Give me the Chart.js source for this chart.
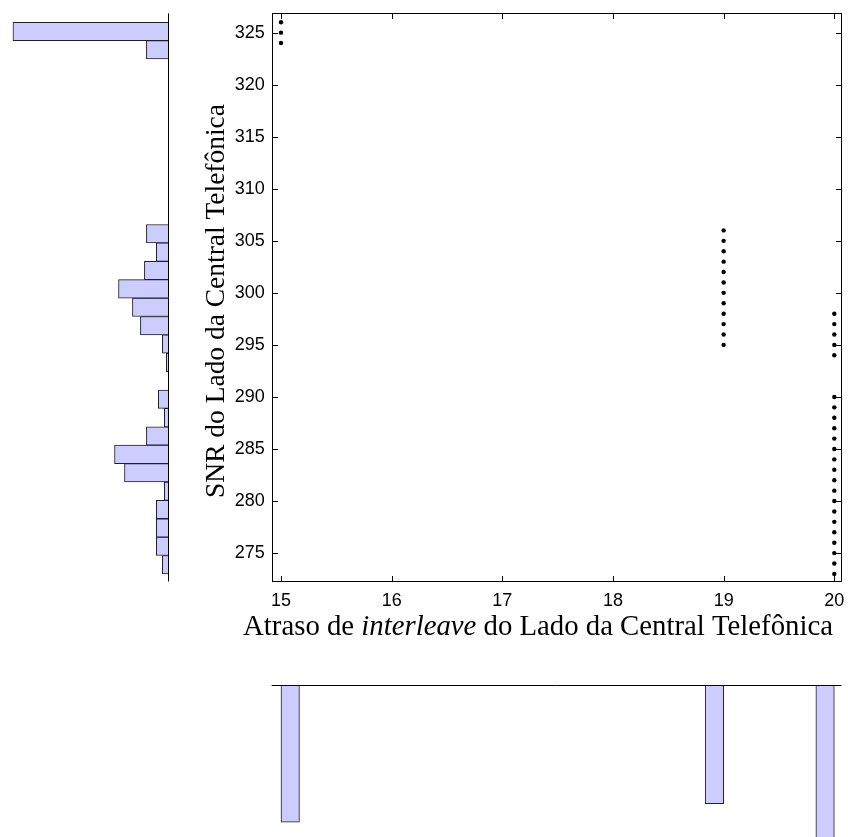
<!DOCTYPE html>
<html>
<head>
<meta charset="utf-8">
<title>SNR x Atraso de interleave</title>
<script src="https://cdn.jsdelivr.net/npm/chart.js@4.4.0/dist/chart.umd.min.js"></script>
<style>
  html, body { margin: 0; padding: 0; background: #fff; }
  body { width: 848px; height: 837px; position: relative; overflow: hidden; }
  .box { position: absolute; }
</style>
</head>
<body>
<div class="box" style="left:180px;top:0;width:668px;height:660px"><canvas id="mainChart"></canvas></div>
<div class="box" style="left:0;top:0;width:180px;height:600px"><canvas id="leftHist"></canvas></div>
<div class="box" style="left:180px;top:660px;width:668px;height:177px"><canvas id="bottomHist"></canvas></div>
<script>
// Scatter points (distinct positions), one list per interleave delay
const ptsAt15 = [324, 325, 326];
const ptsAt19 = [295, 296, 297, 298, 299, 300, 301, 302, 303, 304, 305, 306];
const ptsAt20 = [273, 274, 275, 276, 277, 278, 279, 280, 281, 282, 283, 284, 285, 286, 287, 288, 289, 290,
                 294, 295, 296, 297, 298];

// Axis ranges and tick labels
const xMin = 14.916, xMax = 20.065;
const yMin = 272.27, yMax = 326.86;
const xTicks = [15, 16, 17, 18, 19, 20];
const yTicks = [275, 280, 285, 290, 295, 300, 305, 310, 315, 320, 325];

// Histogram of SNR (30 bins from 273 to 326, lowest bin first)
const yBinLow = 273, yBinHigh = 326;
const yHistCounts = [3, 6, 6, 6, 2, 22, 27, 11, 2, 5, 0, 1, 3, 14, 18, 25, 12, 6, 11,
                     0, 0, 0, 0, 0, 0, 0, 0, 0, 11, 78];

// Histogram of interleave delay (30 bins from 15 to 20)
const xBinLow = 15, xBinHigh = 20;
const xHistCounts = [89, 0, 0, 0, 0, 0, 0, 0, 0, 0, 0, 0, 0, 0, 0, 0, 0, 0, 0, 0, 0, 0, 0, 77,
                     0, 0, 0, 0, 0, 103];

const xTitleParts = [
    { text: 'Atraso de ', italic: false },
    { text: 'interleave', italic: true },
    { text: ' do Lado da Central Telefônica', italic: false },
];
const yTitle = 'SNR do Lado da Central Telefônica';

const barFill = 'rgb(204,204,255)';
const barEdge = 'rgb(30,30,45)';
const serif = "'Liberation Serif', 'Times New Roman', serif";

Chart.defaults.font.family = "'Liberation Sans', Arial, sans-serif";
Chart.defaults.font.size = 18;
Chart.defaults.color = '#000';

/**
 * Bin centers for a histogram
 */
function binCenters(low, high, n) {
    const w = (high - low) / n;
    const out = [];
    for (let i = 0; i < n; i++) out.push(low + (i + 0.5) * w);
    return out;
}

/**
 * Font size so that the title parts fill the wanted width
 */
function fitFontSize(ctx, parts, targetWidth) {
    let w = 0;
    parts.forEach(p => {
        ctx.font = (p.italic ? 'italic ' : '') + '100px ' + serif;
        w += ctx.measureText(p.text).width;
    });
    return 100 * targetWidth / w;
}

// Keep the tick labels from pushing the plot area around
function noLabelPadding(s) {
    s.paddingLeft = 0;
    s.paddingRight = 0;
    s.paddingTop = 0;
    s.paddingBottom = 0;
}

// Box, inward ticks on all four sides, axis titles
const mainDecor = {
    id: 'mainDecor',
    afterDraw(chart) {
        const { ctx, chartArea: a, scales } = chart;
        const L = Math.round(a.left) + 0.5, R = Math.round(a.right) - 0.5;
        const T = Math.round(a.top) + 0.5, B = Math.round(a.bottom) - 0.5;
        const tl = 5.5;
        ctx.save();
        ctx.strokeStyle = '#000';
        ctx.lineWidth = 1;
        ctx.strokeRect(L, T, R - L, B - T);
        ctx.beginPath();
        xTicks.forEach(v => {
            const px = Math.round(scales.x.getPixelForValue(v)) + 0.5;
            ctx.moveTo(px, B); ctx.lineTo(px, B - tl);
            ctx.moveTo(px, T); ctx.lineTo(px, T + tl);
        });
        yTicks.forEach(v => {
            const py = Math.round(scales.y.getPixelForValue(v)) + 0.5;
            ctx.moveTo(L, py); ctx.lineTo(L + tl, py);
            ctx.moveTo(R, py); ctx.lineTo(R - tl, py);
        });
        ctx.stroke();

        // x title, "interleave" in italics
        const size = fitFontSize(ctx, xTitleParts, 590);
        let w = 0;
        xTitleParts.forEach(p => {
            ctx.font = (p.italic ? 'italic ' : '') + size + 'px ' + serif;
            w += ctx.measureText(p.text).width;
        });
        let x = 358 - w / 2;
        ctx.fillStyle = '#000';
        ctx.textBaseline = 'alphabetic';
        ctx.textAlign = 'left';
        xTitleParts.forEach(p => {
            ctx.font = (p.italic ? 'italic ' : '') + size + 'px ' + serif;
            ctx.fillText(p.text, x, 635);
            x += ctx.measureText(p.text).width;
        });

        // y title, rotated
        const ySize = fitFontSize(ctx, [{ text: yTitle, italic: false }], 394);
        ctx.translate(43.5, 301);
        ctx.rotate(-Math.PI / 2);
        ctx.font = ySize + 'px ' + serif;
        ctx.textAlign = 'center';
        ctx.fillText(yTitle, 0, 0);
        ctx.restore();
    }
};

// Baseline of a histogram, drawn at count zero
const histBase = {
    id: 'histBase',
    afterDatasetsDraw(chart) {
        const { ctx, chartArea: a, scales } = chart;
        ctx.save();
        ctx.strokeStyle = '#000';
        ctx.lineWidth = 1;
        ctx.beginPath();
        if (chart.options.indexAxis === 'y') {
            const px = Math.round(scales.x.getPixelForValue(0)) + 0.5;
            ctx.moveTo(px, a.top); ctx.lineTo(px, a.bottom);
        } else {
            const py = Math.round(scales.y.getPixelForValue(0)) + 0.5;
            ctx.moveTo(a.left, py); ctx.lineTo(a.right, py);
        }
        ctx.stroke();
        ctx.restore();
    }
};

function dots(xv, ys) {
    return {
        data: ys.map(y => ({ x: xv, y: y })),
        pointRadius: 2.2,
        pointBorderWidth: 0,
        pointBackgroundColor: '#000',
        showLine: false,
    };
}

// Main scatter
new Chart(document.getElementById('mainChart'), {
    type: 'scatter',
    data: { datasets: [dots(15, ptsAt15), dots(19, ptsAt19), dots(20, ptsAt20)] },
    options: {
        animation: false,
        responsive: true,
        maintainAspectRatio: false,
        layout: { padding: { left: 0, right: 6.5, top: 13.3, bottom: 0 } },
        scales: {
            x: {
                type: 'linear', min: xMin, max: xMax,
                afterBuildTicks: s => { s.ticks = xTicks.map(v => ({ value: v })); },
                afterFit: s => { s.height = 78.5; noLabelPadding(s); },
                grid: { display: false, drawTicks: false },
                border: { display: false },
                ticks: { padding: 9, autoSkip: false, maxRotation: 0 },
            },
            y: {
                type: 'linear', min: yMin, max: yMax,
                afterBuildTicks: s => { s.ticks = yTicks.map(v => ({ value: v })); },
                afterFit: s => { s.width = 91.7; noLabelPadding(s); },
                grid: { display: false, drawTicks: false },
                border: { display: false },
                ticks: { padding: 7, autoSkip: false },
            },
        },
        plugins: { legend: { display: false }, tooltip: { enabled: false } },
    },
    plugins: [mainDecor],
});

// Left histogram (SNR), bars grow to the left
const yCenters = binCenters(yBinLow, yBinHigh, yHistCounts.length);
new Chart(document.getElementById('leftHist'), {
    type: 'bar',
    data: {
        datasets: [{
            data: yHistCounts.map((c, i) => ({ x: c, y: yCenters[i] })).filter(p => p.x > 0),
            backgroundColor: barFill,
            borderColor: barEdge,
            borderWidth: 1,
            borderSkipped: 'start',
            barPercentage: 1,
            categoryPercentage: 1,
        }],
    },
    options: {
        indexAxis: 'y',
        animation: false,
        responsive: true,
        maintainAspectRatio: false,
        layout: { padding: { left: 0, right: 11.7, top: 13.3, bottom: 18.5 } },
        scales: {
            x: { type: 'linear', reverse: true, min: 0, max: 84.5, display: false },
            y: {
                type: 'linear', min: yMin, max: yMax, display: false, offset: false,
                ticks: { autoSkip: false },
                afterBuildTicks: s => { s.ticks = yCenters.map(v => ({ value: v })); },
            },
        },
        plugins: { legend: { display: false }, tooltip: { enabled: false } },
    },
    plugins: [histBase],
});

// Bottom histogram (interleave delay), bars hang down
const xCenters = binCenters(xBinLow, xBinHigh, xHistCounts.length);
new Chart(document.getElementById('bottomHist'), {
    type: 'bar',
    data: {
        datasets: [{
            data: xHistCounts.map((c, i) => ({ x: xCenters[i], y: c })).filter(p => p.y > 0),
            backgroundColor: barFill,
            borderColor: barEdge,
            borderWidth: 1,
            borderSkipped: 'start',
            barPercentage: 1,
            categoryPercentage: 1,
        }],
    },
    options: {
        animation: false,
        responsive: true,
        maintainAspectRatio: false,
        layout: { padding: { left: 91.7, right: 6.5, top: 25, bottom: 0 } },
        scales: {
            x: {
                type: 'linear', min: xMin, max: xMax, display: false, offset: false,
                ticks: { autoSkip: false },
                afterBuildTicks: s => { s.ticks = xCenters.map(v => ({ value: v })); },
            },
            y: { type: 'linear', reverse: true, min: 0, max: 98.7, display: false },
        },
        plugins: { legend: { display: false }, tooltip: { enabled: false } },
    },
    plugins: [histBase],
});
</script>
</body>
</html>
